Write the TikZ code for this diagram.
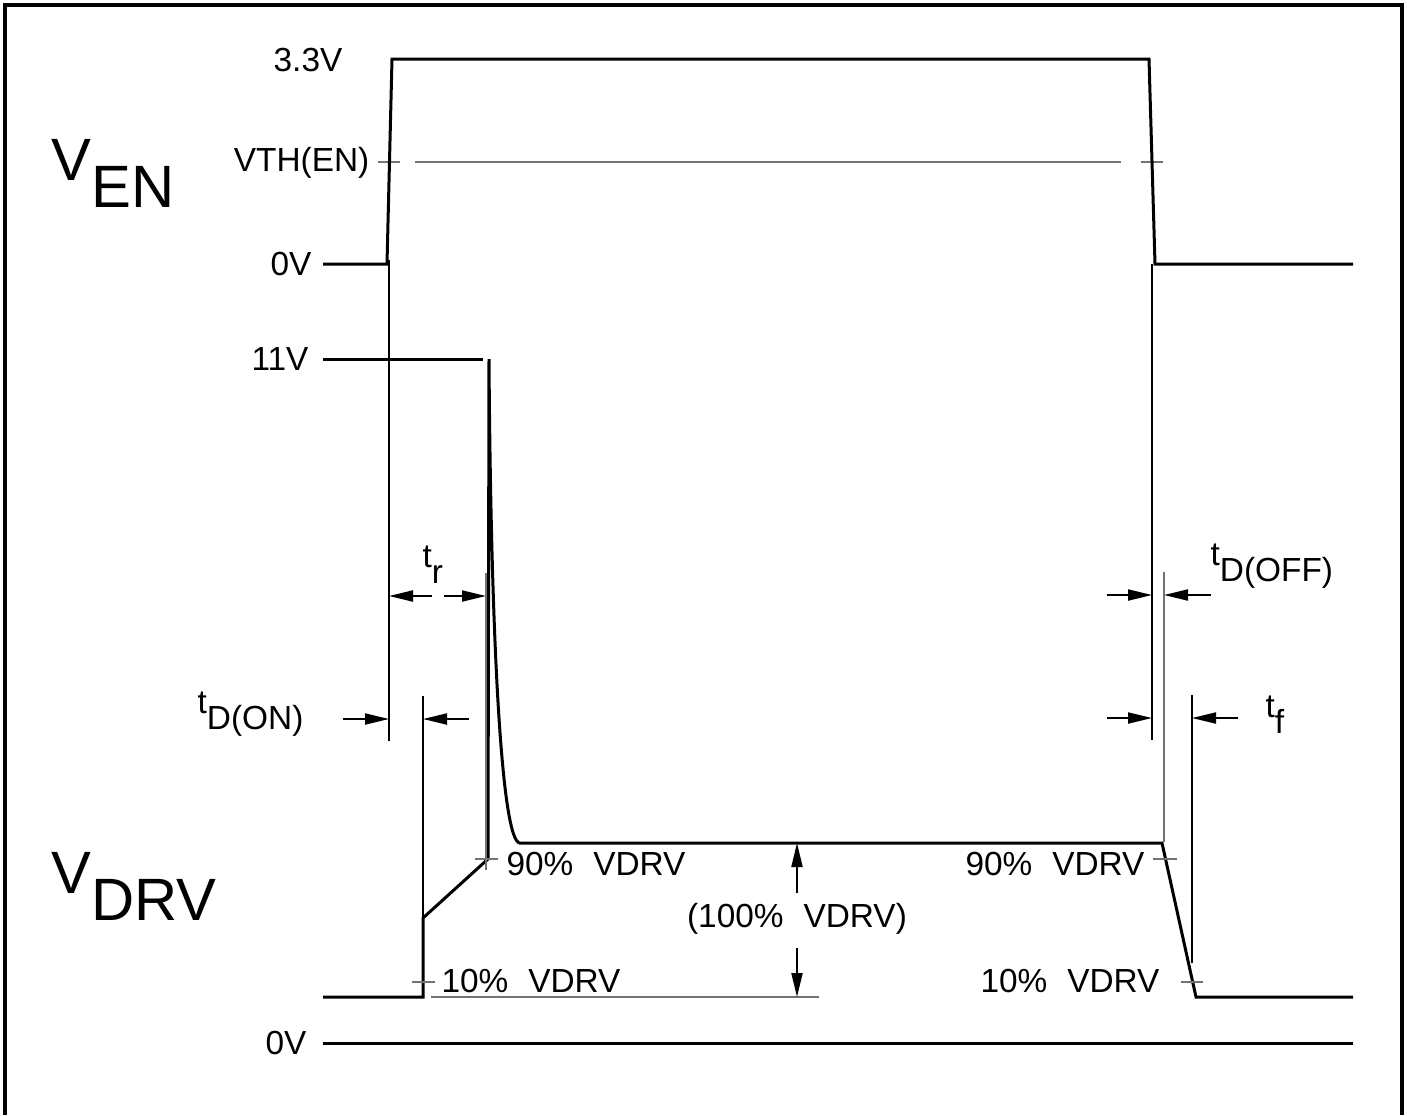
\documentclass[tikz,border=0pt]{standalone}
\usepackage{fontspec}
\setmainfont{Liberation Sans}
\usetikzlibrary{arrows.meta}
\newcommand{\lowsub}[2]{#1\raisebox{-1.6mm}{#2}}

\begin{document}
\begin{tikzpicture}[x=0.1mm,y=-0.1mm,
    wave/.style={line width=0.3mm,line join=miter},
    ext/.style={line width=0.12mm},
    extgray/.style={line width=0.12mm,black!55},
    dim/.style={line width=0.2mm,-{Triangle[length=2.4mm,width=1.1mm]}},
    lbl/.style={font=\fontsize{9.5}{10}\selectfont,inner sep=0pt},
    biglbl/.style={font=\fontsize{17}{18}\selectfont,inner sep=0pt}]
        \useasboundingbox(0,0)rectangle(1407,1115);
        \draw[line width=0.4mm](5,1115)--(5,5)--(1402,5)--(1402,1115);

        \node[biglbl,anchor=base west](ven)at(51,180){V\raisebox{-2.7mm}{EN}};
        \node[biglbl,anchor=base west](vdrv)at(51,893){V\raisebox{-2.7mm}{DRV}};

        \node[lbl](vhigh)at(308,60){3.3V};
        \node[lbl,anchor=east](vth)at(370,163){VTH(EN)};
        \draw[extgray](378,162)--(400,162)(415,162)--(1121,162)(1141,162)--(1163,162);
        \draw[wave](323,264)node[lbl,left=1mm](zeroen){0V}--(387,264)--(392,59)--(1149,59)--(1155,264)--(1353,264);

        \draw[wave](323,359)node[lbl,left=1.3mm](elevenv){11V}--(483,359);
        \draw[wave](323,997)--(423,997)--(423,918)--(488,859)--(489,359)..controls(491,650)and(502,843)..(520,843)--(1162,843)--(1196,997)--(1353,997);
        \draw[wave](323,1043)node[lbl,left=1.5mm](zerodrv){0V}--(1353,1043);

        \draw[ext](389,260)--(389,741);
        \draw[ext](1152,264)--(1152,740);
        \draw[ext](423,696)--(423,918);
        \draw[ext](1192,695)--(1192,963);
        \draw[extgray](486,573)--(486,870);
        \draw[extgray](1164,572)--(1164,842);
        \draw[extgray](475,859)--(498,859)(412,982)--(435,982)(1153,859)--(1177,859)(1181,982)--(1203,982);
        \draw[extgray](431,997)--(819,997);

        \node[lbl](ninetyl)at(596,864){90\%\hspace{2mm}VDRV};
        \node[lbl](tenl)at(531,981){10\%\hspace{2mm}VDRV};
        \node[lbl](ninetyr)at(1055,864){90\%\hspace{2mm}VDRV};
        \node[lbl](tenr)at(1070,981){10\%\hspace{2mm}VDRV};
        \node[lbl](full)at(797,919){(100\%\hspace{2mm}VDRV)};

        \draw[dim](432,596)--(389,596);
        \draw[dim](444,596)--(486,596);
        \node[lbl,anchor=base west](trise)at(422,567){\lowsub{t}{r}};
        \draw[dim](343,719)--(389,719);
        \draw[dim](469,719)--(423,719);
        \node[lbl,anchor=base west](tdon)at(197,713){\lowsub{t}{D(ON)}};
        \draw[dim](1107,595)--(1152,595);
        \draw[dim](1211,595)--(1164,595);
        \node[lbl,anchor=base west](tdoff)at(1210,565){\lowsub{t}{D(OFF)}};
        \draw[dim](1107,718)--(1152,718);
        \draw[dim](1238,718)--(1192,718);
        \node[lbl,anchor=base west](tfall)at(1265,717){\lowsub{t}{f}};
        \draw[dim](797,893)--(797,843);
        \draw[dim](797,948)--(797,997);
    \end{tikzpicture}
\end{document}
